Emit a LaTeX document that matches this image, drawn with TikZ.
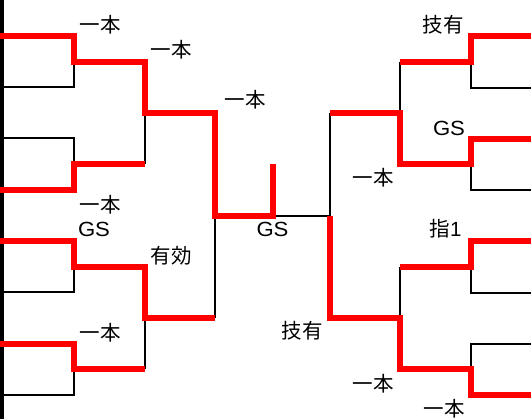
\documentclass[tikz,border=0pt]{standalone}
\usepackage{fontspec}
\setmainfont{Liberation Sans}[FakeStretch=1.08]
\newfontfamily\jpfont{Noto Sans CJK JP}
\begin{document}
\begin{tikzpicture}[x=1pt,y=-1pt,
  redline/.style={draw=red, line width=6pt, line join=miter},
  blackline/.style={draw=black, line width=2pt},
  borderline/.style={draw=black, line width=3.5pt},
  tickline/.style={draw=black, line width=1pt},
  lbl/.style={font=\jpfont\fontsize{20.5}{24}\selectfont, inner sep=0pt},
  lat/.style={font=\fontsize{20.5}{24}\selectfont, inner sep=0pt}]
\useasboundingbox (0,0) rectangle (531,419);
% left entries
\coordinate (la1) at (0,36);
\coordinate (la2) at (2,87.5);
\coordinate (la3) at (2,138.5);
\coordinate (la4) at (0,190);
\coordinate (la5) at (0,241);
\coordinate (la6) at (2,292.5);
\coordinate (la7) at (0,344);
\coordinate (la8) at (2,395);
\coordinate (lb1) at (74,62);
\coordinate (lb2) at (74,164);
\coordinate (lb3) at (74,267);
\coordinate (lb4) at (74,369);
\coordinate (lc1) at (144.5,113);
\coordinate (lc2) at (144.5,318);
\coordinate (ld1) at (214.5,216);
\coordinate (fj) at (272.5,216);
\coordinate (champ) at (272.5,164);
% right entries
\coordinate (ra1) at (531,36);
\coordinate (ra2) at (531,88);
\coordinate (ra3) at (531,139.5);
\coordinate (ra4) at (531,190);
\coordinate (ra5) at (531,241);
\coordinate (ra6) at (531,293);
\coordinate (ra7) at (531,344);
\coordinate (ra8) at (531,395);
\coordinate (rb1) at (471,62);
\coordinate (rb2) at (471,164);
\coordinate (rb3) at (471,267);
\coordinate (rb4) at (471,369);
\coordinate (rc1) at (400,113);
\coordinate (rc2) at (400,318);
\coordinate (rd1) at (330,216);
% border
\coordinate (bt) at (2,0);
\coordinate (bb) at (2,419);
\draw[borderline] (bt) -- (bb);
\foreach \yy in {10,62,113,164,216,267,318,369} {
  \draw[tickline] (0,\yy) -- (1.5,\yy);
}
% black lines
\draw[blackline] (la2) -| (lb1);
\draw[blackline] (la3) -| (lb2);
\draw[blackline] (la6) -| (lb3);
\draw[blackline] (la8) -| (lb4);
\draw[blackline] (lc1) -- (lc1 |- lb2);
\draw[blackline] (lc2) -- (lc2 |- lb4);
\draw[blackline] (ld1) -- (ld1 |- lc2);
\draw[blackline] (ra2) -| (rb1);
\draw[blackline] (ra4) -| (rb2);
\draw[blackline] (ra6) -| (rb3);
\draw[blackline] (ra7) -| (rb4);
\draw[blackline] (rc1) -- (rc1 |- rb1);
\draw[blackline] (rc2) -- (rc2 |- rb3);
\draw[blackline] (rd1 |- rc1) -- (rd1) -- (fj);
% red lines
\draw[redline] (la1) -| (lb1) -| (lc1) -| (ld1) -- (fj) -- (champ);
\draw[redline] (la4) -| (lb2) -- (lb2 -| lc1);
\draw[redline] (la5) -| (lb3) -| (lc2) -- (lc2 -| ld1);
\draw[redline] (la7) -| (lb4) -- (lb4 -| lc2);
\draw[redline] (ra1) -| (rb1) -- (rb1 -| rc1);
\draw[redline] (ra3) -| (rb2) -| (rc1) -- (rc1 -| rd1);
\draw[redline] (ra5) -| (rb3) -- (rb3 -| rc2);
\draw[redline] (ra8) -| (rb4) -| (rc2) -| (rd1);
% labels
\node[lbl] (t1) at (100,25) {一本};
\node[lbl] (t2) at (171,50) {一本};
\node[lbl] (t3) at (245,100) {一本};
\node[lbl] (t4) at (100,205) {一本};
\node[lat] (t5) at (94,229) {GS};
\node[lbl] (t6) at (171,256) {有効};
\node[lbl] (t7) at (100,333) {一本};
\node[lat] (t8) at (272.5,229) {GS};
\node[lbl] (t9) at (443,25) {技有};
\node[lat] (t10) at (449,128) {GS};
\node[lbl] (t11) at (373,178) {一本};
\node[lbl] (t12) at (445.5,229) {指\fontspec{Liberation Sans}1};
\node[lbl] (t13) at (302,331) {技有};
\node[lbl] (t14) at (373,384) {一本};
\node[lbl] (t15) at (444,409) {一本};
\end{tikzpicture}
\end{document}
